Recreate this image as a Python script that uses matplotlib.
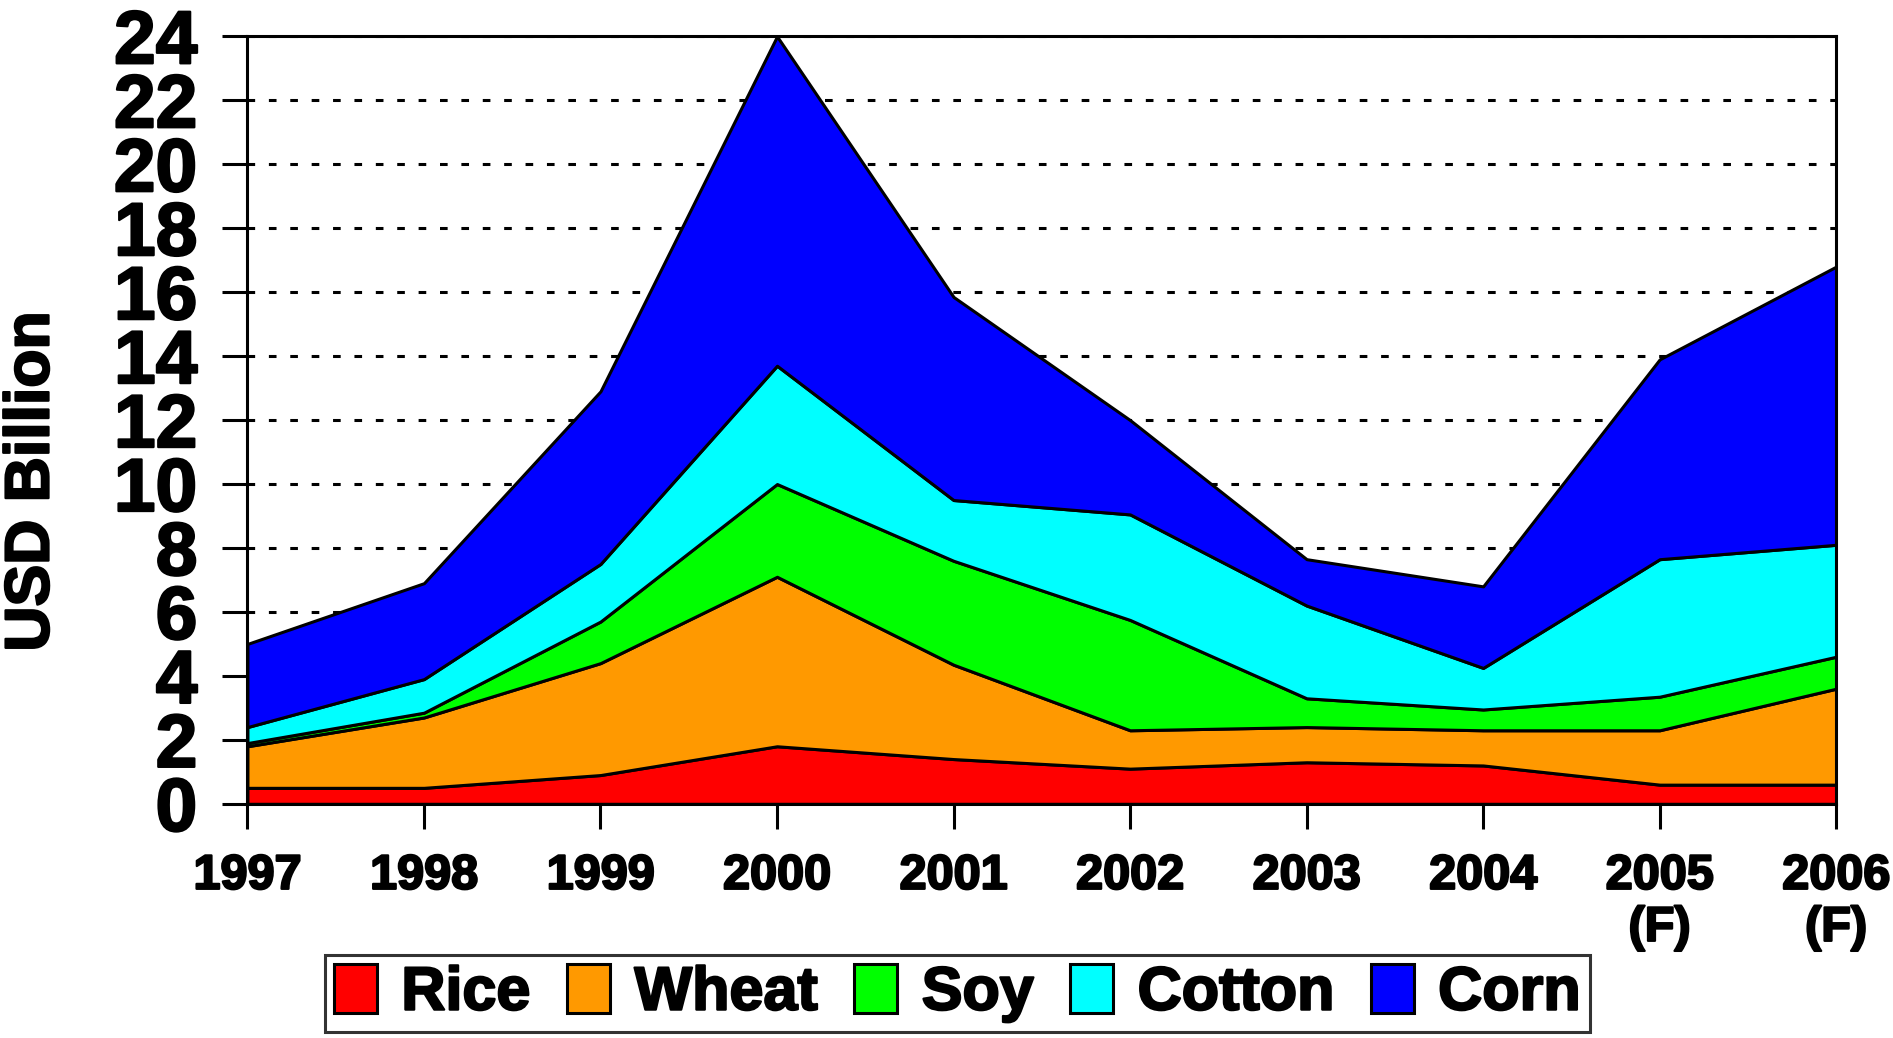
import matplotlib
matplotlib.use("Agg")
import matplotlib.pyplot as plt
import matplotlib.patheffects as pe
import numpy as np

years = ["1997", "1998", "1999", "2000", "2001", "2002", "2003", "2004", "2005\n(F)", "2006\n(F)"]
series_names = ["Rice", "Wheat", "Soy", "Cotton", "Corn"]
colors = ["#FF0000", "#FF9900", "#00FF00", "#00FFFF", "#0000FF"]

# cumulative tops
rice_top   = [0.5, 0.5, 0.9, 1.8, 1.4, 1.1, 1.3, 1.2, 0.6, 0.6]
wheat_top  = [1.8, 2.7, 4.4, 7.1, 4.35, 2.3, 2.4, 2.3, 2.3, 3.6]
soy_top    = [1.9, 2.85, 5.7, 10.0, 7.6, 5.75, 3.3, 2.95, 3.35, 4.6]
cotton_top = [2.4, 3.9, 7.5, 13.7, 9.5, 9.05, 6.2, 4.25, 7.65, 8.1]
corn_top   = [5.0, 6.9, 12.9, 24.0, 15.85, 12.0, 7.65, 6.8, 13.9, 16.8]

tops = np.array([rice_top, wheat_top, soy_top, cotton_top, corn_top])
values = np.diff(np.vstack([np.zeros(len(years)), tops]), axis=0)

plt.rcParams['font.family'] = ['Liberation Sans', 'DejaVu Sans']
plt.rcParams['font.weight'] = 'bold'

heavy = [pe.withStroke(linewidth=1.6, foreground='black')]

fig = plt.figure(figsize=(18.93, 10.38), dpi=100)
ax = fig.add_axes([0.1307, 0.2256, 0.8393, 0.7394])

x = np.arange(len(years))
polys = ax.stackplot(x, values, colors=colors, labels=series_names,
                     edgecolor='black', linewidth=2.2, zorder=3)

ax.set_xlim(0, len(years) - 1)
ax.set_ylim(0, 24)
ax.set_yticks(np.arange(0, 25, 2))
ax.set_xticks(x)
ax.set_xticklabels(years, fontsize=35, fontweight='bold', linespacing=1.2)
ax.tick_params(axis='y', labelsize=54, length=18, width=2.2, pad=18, direction='out')
ax.tick_params(axis='x', length=18, width=2.2, pad=18, direction='out')
for lab in ax.get_yticklabels() + ax.get_xticklabels():
    lab.set_fontweight('bold')
    lab.set_path_effects(heavy)

ax.yaxis.grid(True, color='black', linestyle=(0, (2.5, 4.5)), linewidth=2.2, zorder=1)
ax.set_axisbelow(True)
for s in ax.spines.values():
    s.set_linewidth(2.2)
    s.set_zorder(5)

yl = ax.set_ylabel("USD Billion", fontsize=45, fontweight='bold')
yl.set_path_effects(heavy)
ax.yaxis.set_label_coords(-0.117, 0.42)

leg = fig.legend(handles=polys, labels=series_names, loc='center',
                 bbox_to_anchor=(0.5057, 0.043), ncol=5,
                 frameon=True, fancybox=False, edgecolor='black',
                 handlelength=0.7, handleheight=0.85, handletextpad=0.4,
                 columnspacing=0.6, borderpad=0.15, borderaxespad=0,
                 prop={'weight': 'bold', 'size': 44})
leg.get_frame().set_linewidth(2.2)
for t in leg.get_texts():
    t.set_path_effects(heavy)

fig.savefig("out.png", dpi=100, facecolor='white')
